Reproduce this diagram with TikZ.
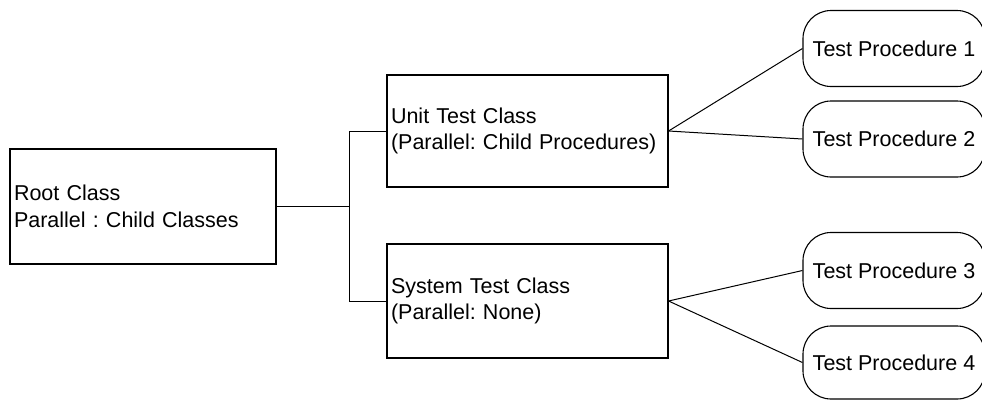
\documentclass[tikz,border=0pt]{standalone}
\usepackage{fontspec}
\setmainfont{Liberation Sans}
\usepackage{tikz}
\frenchspacing

\begin{document}
\begin{tikzpicture}[x=1pt, y=-1pt,
    txt/.style={font=\fontsize{21.5}{26.5}\selectfont},
    box/.style={draw, line width=1.1pt, txt, align=left, inner xsep=4pt, inner ysep=0pt},
    rootbox/.style={box, text width=258pt, minimum height=115pt},
    cbox/.style={box, text width=273pt, minimum height=112pt},
    proc/.style={draw, line width=1.1pt, txt, rounded corners=28pt, minimum width=182pt, minimum height=76pt, inner sep=0pt},
    link/.style={line width=1pt},
  ]

  \useasboundingbox (0,0) rectangle (982,400);
  \clip (0,0) rectangle (982,400);

  % --- Root ---
  \node[rootbox] (root) at (143, 206.5) {Root Class\\Parallel : Child Classes};

  % --- Child classes ---
  \node[cbox] (unit) at (527.5, 131) {Unit Test Class\\(Parallel: Child Procedures)};
  \node[cbox, minimum height=114pt] (sys) at (527.5, 301) {System Test Class\\(Parallel: None)};

  % --- Procedures ---
  \node[proc] (tp1) at (894, 48.5) {Test Procedure 1};
  \node[proc] (tp2) at (894, 139) {Test Procedure 2};
  \node[proc] (tp3) at (894, 270.5) {Test Procedure 3};
  \node[proc, minimum height=73pt] (tp4) at (894, 362.5) {Test Procedure 4};

  % --- Connectors ---
  \coordinate (split) at (349, 206.5);
  \draw[link] (root.east) -- (split);
  \draw[link] (split) |- (unit.west);
  \draw[link] (split) |- (sys.west);

  \draw[link] (unit.east) -- (tp1.west);
  \draw[link] (unit.east) -- (tp2.west);
  \draw[link] (sys.east) -- (tp3.west);
  \draw[link] (sys.east) -- (tp4.west);

\end{tikzpicture}
\end{document}
